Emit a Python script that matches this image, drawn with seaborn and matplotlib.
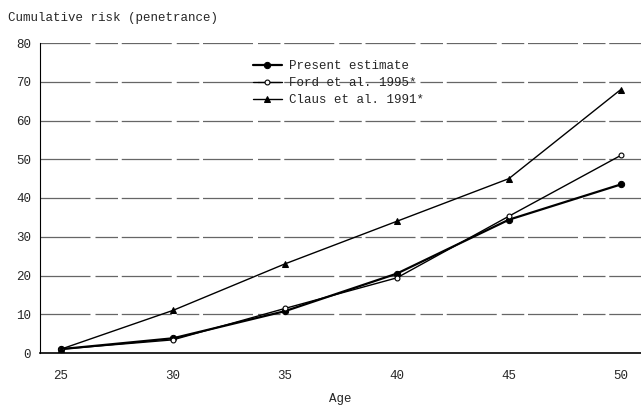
import matplotlib
matplotlib.use("Agg")
import matplotlib.pyplot as plt
import seaborn as sns

ages = [25, 30, 35, 40, 45, 50]
present = [1.0, 3.8, 10.8, 20.5, 34.4, 43.5]
ford = [1.0, 3.4, 11.5, 19.4, 35.3, 51.0]
claus = [1.0, 11.0, 23.0, 34.0, 45.0, 68.0]
series_names = ["Present estimate", "Ford et al. 1995*", "Claus et al. 1991*"]
y_ticks = [0, 10, 20, 30, 40, 50, 60, 70, 80]

sns.set_style("white")
plt.rcParams["font.family"] = ["Liberation Mono", "DejaVu Sans Mono"]

fig = plt.figure(figsize=(6.41, 4.07), dpi=100)
ax = fig.add_axes([40 / 641, 54 / 407, 601 / 641, 310 / 407])

sns.lineplot(x=ages, y=present, color="black", marker="o", markersize=4.5,
             markeredgecolor="black", markerfacecolor="black", linewidth=1.6,
             label=series_names[0], ax=ax, zorder=3)
sns.lineplot(x=ages, y=ford, color="black", marker="o", markersize=3.5,
             markeredgecolor="black", markerfacecolor="white", markeredgewidth=0.8,
             linewidth=1.0, label=series_names[1], ax=ax, zorder=3)
sns.lineplot(x=ages, y=claus, color="black", marker="^", markersize=4.5,
             markeredgecolor="black", markerfacecolor="black", linewidth=1.0,
             label=series_names[2], ax=ax, zorder=3)

ax.set_xlim(24.06, 50.9)
ax.set_ylim(0, 80)
ax.set_yticks(y_ticks)
ax.set_xticks(ages)
ax.tick_params(axis="both", labelsize=9, length=3, color="black", direction="out")
ax.tick_params(axis="x", length=0, pad=12)
for yv in y_ticks[1:]:
    ax.axhline(yv, color="#666666", linewidth=0.9, linestyle=(0, (40, 4, 18, 3)), zorder=0)

ax.spines["right"].set_visible(False)
ax.spines["top"].set_visible(False)
ax.spines["left"].set_color("black")
ax.spines["bottom"].set_color("black")
ax.spines["bottom"].set_linewidth(1.2)

ax.set_xlabel("Age", fontsize=9, labelpad=8)
ax.set_ylabel("")
fig.text(8 / 641, 1 - 18 / 407, "Cumulative risk (penetrance)", fontsize=9, va="center", ha="left")

ax.legend(loc="upper left", bbox_to_anchor=(213 / 601, 1 - 17 / 310),
          frameon=False, fontsize=9, handlelength=2.3, labelspacing=0.4,
          handletextpad=0.55, borderaxespad=0, borderpad=0)

fig.savefig("out.png", dpi=100)
